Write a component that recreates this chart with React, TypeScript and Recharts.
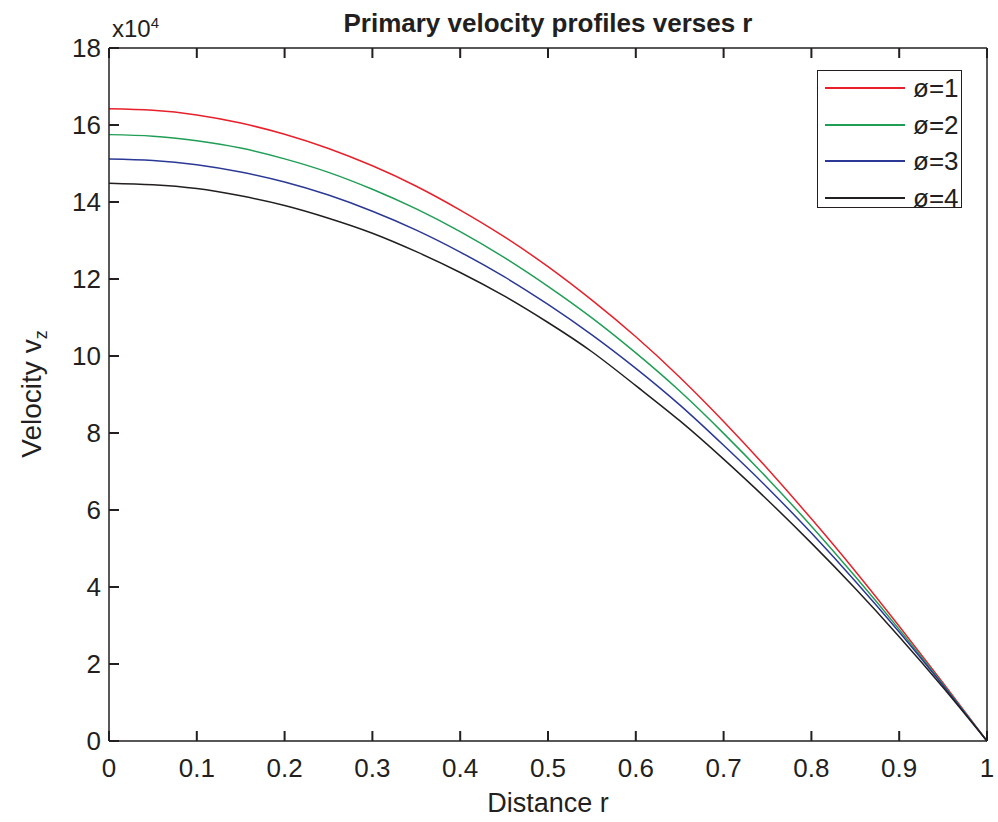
import { Line, LineChart, XAxis, YAxis } from "recharts";

const radius = [0, 0.05, 0.1, 0.15, 0.2, 0.25, 0.3, 0.35, 0.4, 0.45, 0.5, 0.55, 0.6, 0.65, 0.7, 0.75, 0.8, 0.85, 0.9, 0.95, 1];
const phi1 = [16.42, 16.38, 16.26, 16.05, 15.76, 15.39, 14.94, 14.41, 13.79, 13.1, 12.32, 11.45, 10.5, 9.45, 8.3, 7.07, 5.77, 4.41, 2.98, 1.51, 0];
const phi2 = [15.75, 15.71, 15.59, 15.4, 15.12, 14.77, 14.33, 13.82, 13.23, 12.56, 11.81, 10.99, 10.08, 9.09, 7.99, 6.82, 5.58, 4.27, 2.9, 1.47, 0];
const phi3 = [15.12, 15.08, 14.97, 14.78, 14.52, 14.18, 13.76, 13.27, 12.7, 12.06, 11.34, 10.55, 9.68, 8.73, 7.68, 6.58, 5.4, 4.15, 2.83, 1.44, 0];
const phi4 = [14.49, 14.45, 14.35, 14.16, 13.91, 13.58, 13.19, 12.71, 12.17, 11.56, 10.87, 10.11, 9.23, 8.32, 7.32, 6.26, 5.14, 3.96, 2.71, 1.39, 0];

const xTicks = [0, 0.1, 0.2, 0.3, 0.4, 0.5, 0.6, 0.7, 0.8, 0.9, 1];
const yTicks = [0, 2, 4, 6, 8, 10, 12, 14, 16, 18];

const series = [
  { key: "p1", name: "ø=1", color: "#e8202a" },
  { key: "p2", name: "ø=2", color: "#1f9e55" },
  { key: "p3", name: "ø=3", color: "#2b3896" },
  { key: "p4", name: "ø=4", color: "#231f20" },
];

const ink = "#231f20";
const font = "'Liberation Sans', Arial, sans-serif";
const tickLen = 10;

// inward tick marks (MATLAB box style) at the axis' own tick positions
const bottomTick = (props: any) => {
  const { x, y, payload } = props;
  return (
    <g key={`b-${payload.value}`}>
      <rect x={x - 1} y={y - tickLen} width={2} height={tickLen} fill={ink} />
      <text x={x} y={y + 36} textAnchor="middle" fill={ink} fontSize={26} fontFamily={font}>
        {String(payload.value)}
      </text>
    </g>
  );
};

const topTick = (props: any) => {
  const { x, y, payload } = props;
  return <rect key={`t-${payload.value}`} x={x - 1} y={y} width={2} height={tickLen} fill={ink} />;
};

const leftTick = (props: any) => {
  const { x, y, payload } = props;
  return (
    <g key={`l-${payload.value}`}>
      <rect x={x} y={y - 1} width={tickLen} height={2} fill={ink} />
      <text x={x - 8} y={y + 9} textAnchor="end" fill={ink} fontSize={26} fontFamily={font}>
        {String(payload.value)}
      </text>
    </g>
  );
};

const rightTick = (props: any) => {
  const { x, y, payload } = props;
  return <rect key={`r-${payload.value}`} x={x - tickLen} y={y - 1} width={tickLen} height={2} fill={ink} />;
};

function LegendBox() {
  return (
    <div
      style={{
        position: "absolute",
        left: 817,
        top: 70,
        width: 145,
        height: 138,
        boxSizing: "border-box",
        border: `1.5px solid ${ink}`,
        background: "#fff",
        fontFamily: font,
        fontSize: 26,
        color: ink,
      }}
    >
      {series.map((s, i) => (
        <div key={s.key} style={{ position: "absolute", left: 0, top: 1 + Math.round(i * 36.5), height: 32, display: "flex", alignItems: "center" }}>
          <div style={{ width: 80, height: 2, background: s.color, marginLeft: 7 }} />
          <span style={{ marginLeft: 8, lineHeight: "32px" }}>{s.name}</span>
        </div>
      ))}
    </div>
  );
}

export default function App() {
  const rows = radius.map((r, i) => ({
    r,
    p1: phi1[i],
    p2: phi2[i],
    p3: phi3[i],
    p4: phi4[i],
  }));

  return (
    <div style={{ position: "absolute", left: 0, top: 0, width: 998, height: 822, background: "#fff" }}>
      <LineChart width={998} height={822} data={rows} margin={{ top: 38, right: 1, bottom: 41, left: 49 }}>
        <XAxis
          xAxisId="bottom"
          dataKey="r"
          type="number"
          domain={[0, 1]}
          ticks={xTicks}
          height={40}
          tickSize={0}
          tickMargin={0}
          tickLine={false}
          tick={bottomTick}
          stroke={ink}
          strokeWidth={1.5}
        />
        <XAxis
          xAxisId="top"
          orientation="top"
          dataKey="r"
          type="number"
          domain={[0, 1]}
          ticks={xTicks}
          height={10}
          tickSize={0}
          tickMargin={0}
          tickLine={false}
          tick={topTick}
          stroke={ink}
          strokeWidth={1.5}
        />
        <YAxis
          yAxisId="left"
          type="number"
          domain={[0, 18]}
          ticks={yTicks}
          width={60}
          tickSize={0}
          tickMargin={0}
          tickLine={false}
          tick={leftTick}
          stroke={ink}
          strokeWidth={1.5}
        />
        <YAxis
          yAxisId="right"
          orientation="right"
          type="number"
          domain={[0, 18]}
          ticks={yTicks}
          width={10}
          tickSize={0}
          tickMargin={0}
          tickLine={false}
          tick={rightTick}
          stroke={ink}
          strokeWidth={1.5}
        />
        {series.map((s) => (
          <Line
            key={s.key}
            xAxisId="bottom"
            yAxisId="left"
            type="natural"
            dataKey={s.key}
            name={s.name}
            stroke={s.color}
            strokeWidth={1.5}
            dot={false}
            isAnimationActive={false}
          />
        ))}
      </LineChart>
      <LegendBox />
      <div
        style={{
          position: "absolute",
          left: 0,
          width: 1096,
          top: 8,
          textAlign: "center",
          fontFamily: font,
          fontWeight: "bold",
          fontSize: 26,
          color: ink,
        }}
      >
        Primary velocity profiles verses r
      </div>
      <div style={{ position: "absolute", left: 112, top: 14, fontFamily: font, fontSize: 24, color: ink }}>
        x10<sup style={{ fontSize: 15 }}>4</sup>
      </div>
      <div
        style={{
          position: "absolute",
          left: 0,
          width: 1096,
          top: 788,
          textAlign: "center",
          fontFamily: font,
          fontSize: 27,
          color: ink,
        }}
      >
        Distance r
      </div>
      <div
        style={{
          position: "absolute",
          left: 34,
          top: 394,
          transform: "translate(-50%, -50%) rotate(-90deg)",
          whiteSpace: "nowrap",
          fontFamily: font,
          fontSize: 28,
          color: ink,
        }}
      >
        Velocity v<sub style={{ fontSize: 18 }}>z</sub>
      </div>
    </div>
  );
}
